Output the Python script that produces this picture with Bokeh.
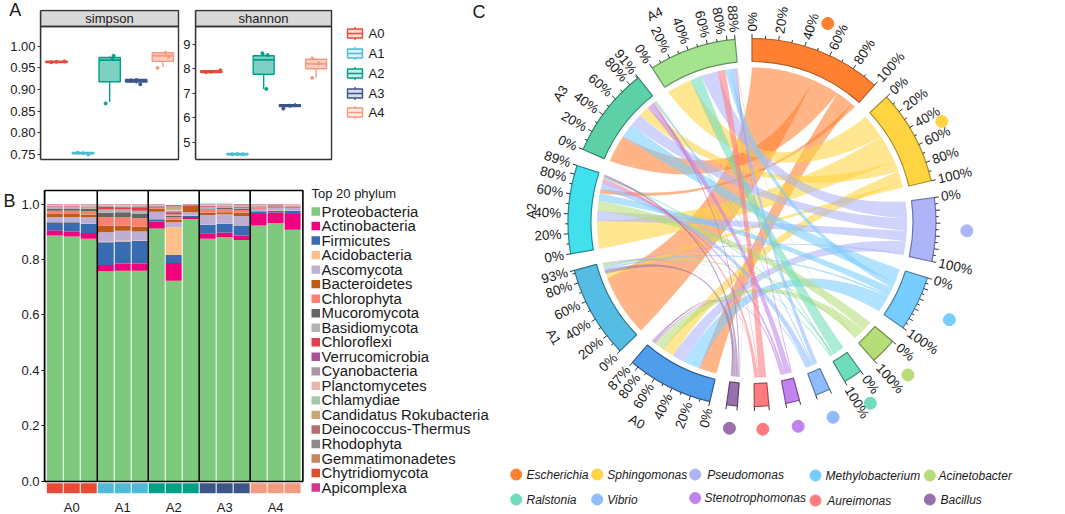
import math
from bokeh.embed import file_html
from bokeh.resources import INLINE
from bokeh.plotting import figure
from bokeh.layouts import row, column
from bokeh.models import Range1d, FixedTicker, NumeralTickFormatter, ColumnDataSource
from bokeh.core.properties import value

FONT = "Liberation Sans"
# ---------- panel A data ----------
groups = ["A0", "A1", "A2", "A3", "A4"]
group_colors = ["#E64B35", "#4DBBD5", "#00A087", "#3C5488", "#F39B7F"]
simpson_min = [0.962, 0.751, 0.871, 0.914, 0.952]
simpson_q1 = [0.9625, 0.7515, 0.918, 0.917, 0.965]
simpson_med = [0.964, 0.753, 0.968, 0.920, 0.978]
simpson_q3 = [0.9655, 0.7545, 0.974, 0.923, 0.985]
simpson_max = [0.966, 0.755, 0.976, 0.924, 0.986]
simpson_pt_x = [1, 1.3, 0.8, 2, 2.2, 1.8, 2.85, 3.15, 3.1, 4, 4.15, 3.8, 4.8, 5.1, 5.2]
simpson_pt_y = [0.964, 0.965, 0.963, 0.753, 0.750, 0.754, 0.868, 0.978, 0.972, 0.922, 0.912, 0.921, 0.950, 0.985, 0.976]
shannon_min = [7.85, 4.50, 7.18, 6.42, 7.63]
shannon_q1 = [7.85, 4.50, 7.78, 6.46, 8.00]
shannon_med = [7.88, 4.53, 8.36, 6.50, 8.20]
shannon_q3 = [7.92, 4.55, 8.53, 6.54, 8.39]
shannon_max = [7.94, 4.56, 8.63, 6.55, 8.42]
shannon_pt_x = [1, 1.35, 0.8, 2, 2.2, 1.8, 3.1, 2.95, 3.15, 4, 3.75, 4.2, 4.85, 5.1, 4.85]
shannon_pt_y = [7.88, 7.94, 7.86, 4.53, 4.52, 4.52, 7.18, 8.63, 8.56, 6.50, 6.38, 6.52, 8.42, 8.22, 7.63]
simpson_ticks = [0.75, 0.80, 0.85, 0.90, 0.95, 1.00]
shannon_ticks = [5, 6, 7, 8, 9]

# ---------- panel B data ----------
phyla = ["Proteobacteria", "Actinobacteria", "Firmicutes", "Acidobacteria", "Ascomycota", "Bacteroidetes",
         "Chlorophyta", "Mucoromycota", "Basidiomycota", "Chloroflexi", "Verrucomicrobia", "Cyanobacteria",
         "Planctomycetes", "Chlamydiae", "Candidatus Rokubacteria", "Deinococcus-Thermus", "Rhodophyta",
         "Gemmatimonadetes", "Chytridiomycota", "Apicomplexa"]
phyla_colors = ["#7FC97F", "#F0027F", "#386CB0", "#FDC086", "#BEAED4", "#BF5B17", "#FB8072", "#666666",
                "#B3B3B3", "#E0404F", "#A65297", "#A998A4", "#E8B5B0", "#A6C8B0", "#C8A876", "#B76E70",
                "#8E8A8E", "#C6875E", "#D9512C", "#D3388F"]
proteo = [.886, .883, .875, .757, .759, .759, .912, .723, .946, .875, .881, .870, .922, .931, .907]
actino = [.019, .018, .020, .023, .026, .026, .025, .064, .007, .019, .016, .016, .042, .038, .057]
firmi = [.029, .033, .033, .082, .080, .081, .008, .029, .005, .030, .032, .036, .010, .007, .011]
acido = [.001, .001, .001, .002, .002, .002, .001, .100, .001, .001, .001, .001, .001, .001, .001]
asco = [.018, .018, .023, .034, .036, .033, .026, .018, .011, .035, .033, .034, .009, .009, .010]
bacte = [.013, .011, .009, .024, .019, .018, .012, .009, .024, .008, .007, .011, .003, .002, .002]
chlorophyta = [.010, .012, .014, .031, .031, .030, .002, .009, .001, .012, .011, .010, .002, .001, .002]
mucoro = [.008, .008, .008, .015, .017, .015, .002, .006, .001, .004, .005, .004, .001, .001, .001]
basidio = [.005, .005, .005, .012, .010, .012, .002, .004, .001, .005, .005, .004, .002, .001, .001]
chloroflexi = [.002, .002, .002, .009, .008, .012, .002, .006, .001, .003, .002, .002, .001, .001, .001]
verruco = [.001, .001, .001, .002, .002, .003, .001, .005, .000, .001, .001, .002, .001, .001, .001]
cyano = [.001, .001, .001, .002, .002, .002, .002, .002, .001, .001, .001, .002, .001, .004, .001]
plancto = [.002, .002, .002, .001, .002, .001, .001, .002, .000, .002, .001, .001, .001, .001, .001]
chlamy = [.001, .001, .001, .001, .001, .001, .001, .002, .000, .001, .001, .001, .001, .000, .000]
candid = [.001, .001, .001, .001, .001, .001, .001, .010, .000, .001, .001, .001, .001, .000, .000]
deino = [.001, .001, .001, .001, .001, .001, .001, .002, .000, .001, .001, .003, .001, .001, .001]
rhodo = [.001, .000, .001, .001, .001, .001, .000, .001, .000, .001, .001, .001, .000, .000, .000]
gemma = [.000, .000, .000, .000, .000, .000, .000, .001, .000, .000, .000, .000, .000, .000, .000]
chytri = [.000, .000, .000, .000, .000, .000, .000, .001, .000, .000, .000, .000, .000, .000, .000]
apico = [.001, .001, .001, .001, .001, .001, .001, .002, .001, .001, .001, .001, .001, .001, .001]
phyla_values = [proteo, actino, firmi, acido, asco, bacte, chlorophyta, mucoro, basidio, chloroflexi,
                verruco, cyano, plancto, chlamy, candid, deino, rhodo, gemma, chytri, apico]
stack_ticks = [0.0, 0.2, 0.4, 0.6, 0.8, 1.0]

# ---------- panel C data: flows (percent of sample) ----------
genera = ["Escherichia", "Sphingomonas", "Pseudomonas", "Methylobacterium", "Acinetobacter",
          "Ralstonia", "Vibrio", "Stenotrophomonas", "Aureimonas", "Bacillus"]
genus_colors = ["#FF8030", "#FFD440", "#AEB4F8", "#78CDFF", "#B5DD78", "#6FDCBC", "#8FBBFF", "#C183EE", "#FF7B7F", "#9970AC"]
genus_edges = ["#B35A22", "#A8902C", "#6C72B0", "#4A80A8", "#748F4A", "#3F8A74", "#5A78B0", "#7A4F9A", "#A84C50", "#5E4470"]
sample_colors = ["#4F9DEB", "#55BCE4", "#40E0EC", "#5DD0A8", "#A5E48E"]
sample_edges = ["#2F5F90", "#2F7590", "#208A95", "#2F8A68", "#62925A"]
flow_A0 = [21, 14, 15, 20, 11, 0.5, 1, 2, 1, 1.5]
flow_A1 = [74, 5.5, 2, 2.5, 2, 1, 0.5, 0.5, 0.5, 4.5]
flow_A2 = [5, 33, 12, 9, 12, 2, 7, 3, 3, 3]
flow_A3 = [33, 13, 15, 17, 0.5, 1.5, 1.5, 7, 1, 1.5]
flow_A4 = [0.2, 30, 20, 7, 1, 14, 5, 1.5, 9, 0.3]
flows = [flow_A0, flow_A1, flow_A2, flow_A3, flow_A4]
sample_totals = [87, 93, 89, 91, 88]
order_in_genus = [[1, 3, 0, 2, 4], [4, 2, 3, 0, 1], [4, 3, 2, 0, 1], [3, 4, 2, 1, 0], [2, 0, 1, 4, 3],
                  [4, 2, 3, 1, 0], [4, 3, 2, 1, 0], [4, 3, 2, 1, 0], [4, 3, 2, 1, 0], [4, 3, 2, 1, 0]]
order_in_sample = [[0, 3, 2, 1, 4, 7, 9, 8, 5, 6], [0, 1, 9, 3, 2, 4, 5, 6, 7, 8], [1, 2, 4, 3, 0, 6, 7, 8, 5, 9],
                   [0, 3, 2, 1, 7, 9, 8, 5, 6, 4], [1, 5, 2, 8, 3, 6, 7, 4, 0, 9]]

TXT = "#1a1a1a"
FRAME = "#333333"


def vmap(px, px0, v0, px1, v1):
    return v0 + (px - px0) * (v1 - v0) / (px1 - px0)


def box_panel(title, lo, q1, med, q3, hi, px_, py_, ticks, fmt, width, left, fx0, fx1, t0px, t0v, t1px, t1v):
    height = 175
    fig_top, fig_bottom = 9, 161
    xs = 26.6
    xr = Range1d(0.4, 0.4 + (width - left) / xs)
    yr = Range1d(vmap(fig_bottom, t0px, t0v, t1px, t1v), vmap(fig_top, t0px, t0v, t1px, t1v))
    p = figure(width=width, height=height, x_range=xr, y_range=yr, output_backend="svg", toolbar_location=None,
               x_axis_location=None, min_border_left=left, min_border_right=0, min_border_top=9, min_border_bottom=14)
    p.grid.visible = False
    p.outline_line_color = None
    ax = p.yaxis[0]
    ax.ticker = FixedTicker(ticks=ticks)
    ax.formatter = NumeralTickFormatter(format=fmt)
    ax.minor_tick_line_color = None
    ax.major_tick_in = 0
    ax.major_tick_out = 3
    ax.major_tick_line_color = FRAME
    ax.axis_line_color = FRAME
    ax.axis_line_width = 1.4
    ax.major_label_standoff = 2
    ax.major_label_text_font = FONT
    ax.major_label_text_font_size = "13px"
    ax.major_label_text_color = TXT
    pb = vmap(159, t0px, t0v, t1px, t1v)
    pt = vmap(26, t0px, t0v, t1px, t1v)
    st = vmap(10, t0px, t0v, t1px, t1v)
    ax.bounds = (pb, st)
    right = 0.4 + (fx1 - fx0) / xs
    p.quad(left=[0.4], right=[right], bottom=[pt], top=[st], fill_color="#D9D9D9", line_color=FRAME, line_width=1.4)
    p.quad(left=[0.4], right=[right], bottom=[pb], top=[pt], fill_color=None, line_color=FRAME, line_width=1.4)
    p.text(x=[0.4 + (fx1 - fx0) / xs / 2], y=[(pt + st) / 2], text=[title], text_align="center", text_baseline="middle",
           text_font=value(FONT), text_font_size="13px", text_color=TXT)
    x = [1, 2, 3, 4, 5]
    p.segment(x0=x, x1=x, y0=lo, y1=q1, line_color=group_colors, line_width=1.4)
    p.segment(x0=x, x1=x, y0=q3, y1=hi, line_color=group_colors, line_width=1.4)
    p.vbar(x=x, width=0.8, bottom=q1, top=q3, fill_color=group_colors, fill_alpha=0.5, line_color=group_colors, line_width=1.4)
    p.segment(x0=[i - 0.4 for i in x], x1=[i + 0.4 for i in x], y0=med, y1=med, line_color=group_colors, line_width=1.8)
    ptc = [group_colors[int(i // 3)] for i in range(15)]
    p.scatter(x=px_, y=py_, size=3, color=ptc)
    return p


def panel_letter(axis, letter, standoff):
    axis.axis_label = letter
    axis.axis_label_orientation = "horizontal"
    axis.axis_label_align = "end"
    axis.axis_label_standoff = standoff
    axis.axis_label_text_font = FONT
    axis.axis_label_text_font_size = "18px"
    axis.axis_label_text_font_style = "normal"
    axis.axis_label_text_color = TXT


simpson = box_panel("simpson", simpson_min, simpson_q1, simpson_med, simpson_q3, simpson_max, simpson_pt_x, simpson_pt_y,
                    simpson_ticks, "0.00", 180, 40, 40, 178, 45.7, 1.00, 154, 0.75)
shannon = box_panel("shannon", shannon_min, shannon_q1, shannon_med, shannon_q3, shannon_max, shannon_pt_x, shannon_pt_y,
                    shannon_ticks, "0", 153, 13, 193, 331, 43.7, 9, 142, 5)
panel_letter(simpson.yaxis[0], "A", -14)

# ---------- legend A + C letter (image-pixel coordinates) ----------
leg_a = figure(width=157, height=175, x_range=Range1d(333, 490), y_range=Range1d(175, 0), output_backend="svg",
               toolbar_location=None, x_axis_location=None, y_axis_location=None,
               min_border_left=0, min_border_right=0, min_border_top=0, min_border_bottom=0)
leg_a.grid.visible = False
leg_a.outline_line_color = None
key_y = [33, 53, 73, 93, 112]
leg_a.segment(x0=[354.5] * 5, x1=[354.5] * 5, y0=[y - 6.5 for y in key_y], y1=[y + 6.5 for y in key_y], line_color=group_colors, line_width=1.3)
leg_a.quad(left=[347] * 5, right=[362] * 5, top=[y - 4.5 for y in key_y], bottom=[y + 4.5 for y in key_y], fill_color="white",
           line_color=group_colors, line_width=1.4)
leg_a.quad(left=[347] * 5, right=[362] * 5, top=[y - 4.5 for y in key_y], bottom=[y + 4.5 for y in key_y], fill_color=group_colors,
           fill_alpha=0.2, line_color=None)
leg_a.segment(x0=[347] * 5, x1=[362] * 5, y0=key_y, y1=key_y, line_color=group_colors, line_width=1.3)
leg_a.text(x=[368] * 5, y=key_y, text=groups, text_baseline="middle", text_font=value(FONT), text_font_size="13px", text_color=TXT)
leg_a.text(x=[472], y=[1], text=["C"], text_baseline="top", text_font=value(FONT), text_font_size="18px", text_color=TXT)

# ---------- panel B ----------
bx_scale = 17.05
b_w, b_h = 310, 339
b_left = 43
y_of = lambda px: (480.5 - px) / 277
bxr = Range1d(0.394, 0.394 + (b_w - b_left) / bx_scale)
byr = Range1d(y_of(514), y_of(188))
bar = figure(width=b_w, height=b_h, x_range=bxr, y_range=byr, output_backend="svg", toolbar_location=None,
             x_axis_location=None, min_border_left=b_left, min_border_right=0, min_border_top=13, min_border_bottom=0)
bar.grid.visible = False
bar.outline_line_color = None
sample_x = list(range(1, 16))
cum = [0.0] * 15
for vals, col in zip(phyla_values, phyla_colors):
    tops = [c + v for c, v in zip(cum, vals)]
    bar.vbar(x=sample_x, width=0.94, bottom=cum, top=tops, fill_color=col, line_color=None)
    cum = tops
ay = bar.yaxis[0]
ay.ticker = FixedTicker(ticks=stack_ticks)
ay.formatter = NumeralTickFormatter(format="0.0")
ay.minor_tick_line_color = None
ay.major_tick_in = 0
ay.major_tick_out = 3
ay.axis_line_color = "black"
ay.axis_line_width = 1.6
ay.major_tick_line_color = "black"
ay.major_label_standoff = 2
ay.major_label_text_font = FONT
ay.major_label_text_font_size = "13px"
ay.major_label_text_color = TXT
ay.bounds = (y_of(481), y_of(190))
panel_letter(ay, "\nB", 3)
bar.quad(left=[0.394], right=[15.606], bottom=[y_of(481)], top=[y_of(190)], fill_color=None, line_color="black", line_width=1.6)
divx = [3.5, 6.5, 9.5, 12.5]
bar.segment(x0=divx, x1=divx, y0=[y_of(481)] * 4, y1=[y_of(190)] * 4, line_color="black", line_width=1.6)
bar.vbar(x=sample_x, width=0.94, bottom=y_of(492.7), top=y_of(482.7),
         fill_color=[c for c in group_colors for _ in range(3)], line_color=None)
bar.text(x=[2, 5, 8, 11, 14], y=[y_of(507)] * 5, text=groups, text_align="center", text_baseline="middle",
         text_font=value(FONT), text_font_size="13px", text_color=TXT)

leg_b = figure(width=180, height=339, x_range=Range1d(310, 490), y_range=Range1d(514, 188), output_backend="svg",
               toolbar_location=None, x_axis_location=None, y_axis_location=None,
               min_border_left=0, min_border_right=0, min_border_top=13, min_border_bottom=0)
leg_b.grid.visible = False
leg_b.outline_line_color = None
ly = [211 + i * 14.53 for i in range(20)]
leg_b.quad(left=[311] * 20, right=[319.5] * 20, top=[y - 4.2 for y in ly], bottom=[y + 4.2 for y in ly], fill_color=phyla_colors, line_color=None)
leg_b.text(x=[321] * 20, y=ly, text=phyla, text_baseline="middle", text_font=value(FONT), text_font_size="14.9px", text_color=TXT)
leg_b.text(x=[311], y=[193], text=["Top 20 phylum"], text_baseline="middle", text_font=value(FONT), text_font_size="13px", text_color=TXT)

# ---------- panel C ----------
CX, CY = 751.5, 222.0
R_OUT, R_IN, R_LINK = 184.0, 161.0, 155.0
GAP = 5.3
chord = figure(width=575, height=514, x_range=Range1d(490 - CX, 1065 - CX), y_range=Range1d(CY - 514, CY),
               output_backend="svg", toolbar_location=None, x_axis_location=None, y_axis_location=None,
               min_border_left=0, min_border_right=0, min_border_top=0, min_border_bottom=0)
chord.grid.visible = False
chord.outline_line_color = None

genus_sum = [sum(f[j] for f in flows) for j in range(10)]
sample_sum = [sum(f) for f in flows]
grand = sum(genus_sum) + sum(sample_sum)
unit = (360 - 15 * GAP) / grand
sectors = []
t = 0.0
for s in genus_sum + sample_sum:
    sectors.append((t, t + s * unit))
    t += s * unit + GAP


def pol(theta, r):
    a = math.radians(theta)
    return r * math.sin(a), r * math.cos(a)


# link slots
genus_slot = {}
for j in range(10):
    a = sectors[j][0]
    for i in order_in_genus[j]:
        w = flows[i][j] * unit
        genus_slot[(i, j)] = (a, a + w)
        a += w
sample_slot = {}
for i in range(5):
    a = sectors[10 + i][0]
    for j in order_in_sample[i]:
        w = flows[i][j] * unit
        sample_slot[(i, j)] = (a, a + w)
        a += w


def arc(a, b, r, n=14):
    return [pol(a + (b - a) * k / n, r) for k in range(n + 1)]


def bez(t0, t1, n=36):
    x0, y0 = pol(t0, R_LINK)
    x1, y1 = pol(t1, R_LINK)
    k = 0.08
    cx, cy = (x0 + x1) * k, (y0 + y1) * k
    out = []
    for m in range(1, n):
        u = m / n
        out.append(((1 - u) ** 2 * x0 + 2 * u * (1 - u) * cx + u * u * x1,
                    (1 - u) ** 2 * y0 + 2 * u * (1 - u) * cy + u * u * y1))
    return out


lxs, lys, lcol = [], [], []
for j in range(10):
    for i in order_in_genus[j]:
        a1, a2 = genus_slot[(i, j)]
        b1, b2 = sample_slot[(i, j)]
        pts = arc(a1, a2, R_LINK) + bez(a2, b1) + arc(b1, b2, R_LINK) + bez(b2, a1)
        lxs.append([q[0] for q in pts])
        lys.append([q[1] for q in pts])
        lcol.append(genus_colors[j])
chord.patches(xs=lxs, ys=lys, fill_color=lcol, fill_alpha=0.58, line_color=None)

sec_fill = genus_colors + sample_colors
sec_edge = genus_edges + sample_edges
chord.annular_wedge(x=[0] * 15, y=[0] * 15, inner_radius=R_IN, outer_radius=R_OUT,
                    start_angle=[90 - s[0] for s in sectors], end_angle=[90 - s[1] for s in sectors],
                    start_angle_units="deg", end_angle_units="deg", direction="clock",
                    fill_color=sec_fill, line_color=sec_edge, line_width=1.2)

# ticks and tick labels
tx0, tx1, ty0, ty1 = [], [], [], []
lab_x, lab_y, lab_t, lab_a, lab_al = [], [], [], [], []


def tick(theta, major):
    x0, y0 = pol(theta, R_OUT)
    x1, y1 = pol(theta, R_OUT + (4.5 if major else 2.8))
    tx0.append(x0); tx1.append(x1); ty0.append(y0); ty1.append(y1)


def label(theta, s):
    x, y = pol(theta, R_OUT + 7)
    lab_x.append(x); lab_y.append(y); lab_t.append(s)
    if theta < 180:
        lab_a.append(90 - theta); lab_al.append("left")
    else:
        lab_a.append(270 - theta); lab_al.append("right")


for idx, (a, b) in enumerate(sectors):
    if idx < 10:
        step = (b - a) / 100
        if idx < 4:
            for pc in range(0, 101, 10):
                tick(a + pc * step, pc % 20 == 0)
        else:
            tick(a, True); tick(b, True)
        if idx < 2:
            for pc in range(0, 101, 20):
                label(a + pc * step, f"{pc}%")
        elif idx < 6:
            label(a, "0%"); label(b, "100%")
    else:
        total = sample_sum[idx - 10]
        step = (b - a) / total
        shown = sample_totals[idx - 10]
        for pc in range(0, 91, 10):
            if pc <= total:
                tick(a + pc * step, pc % 20 == 0)
        tick(b, True)
        for pc in range(0, 81, 20):
            nudge = 1.5 if pc == 80 and total - 80 < 9.5 else 0
            label(a + pc * step - nudge, f"{pc}%")
        label(b, f"{shown}%")
chord.segment(x0=tx0, x1=tx1, y0=ty0, y1=ty1, line_color="#333333", line_width=1)
src = ColumnDataSource(dict(x=lab_x, y=lab_y, t=lab_t, a=lab_a, al=lab_al))
chord.text(x="x", y="y", text="t", angle="a", angle_units="deg", text_align="al", text_baseline="middle", source=src,
           text_font=value(FONT), text_font_size="13.5px", text_color=TXT)

# sector names
name_theta = [210, 240, 273, 304, 335]
name_r = [230, 229, 221, 231, 230]
for g, m, r in zip(groups, name_theta, name_r):
    x, y = pol(m, r)
    rot = 180 - m if m < 270 else 360 - m
    chord.text(x=[x], y=[y], text=[g], angle=[rot], angle_units="deg", text_align="center", text_baseline="middle",
               text_font=value(FONT), text_font_size="13px", text_color=TXT)

# genus dots
dot_r = [213, 215, 215, 220, 218, 216, 211, 209, 207, 207]
dot_pts = [pol((sectors[j][0] + sectors[j][1]) / 2, dot_r[j]) for j in range(10)]
chord.scatter(x=[q[0] for q in dot_pts], y=[q[1] for q in dot_pts], size=12, color=genus_colors)

# bottom legend (image coordinates converted to chord coordinates)
dot_lx = [515.7, 596.7, 694.7, 815, 929.3, 515.7, 596.7, 694.7, 815, 929.3]
dot_ly = [474, 474, 474, 475, 475, 499, 499, 497.5, 500, 499]
txt_lx = [526, 606.7, 706.7, 825, 938, 526, 606.7, 704, 826.7, 940]
chord.scatter(x=[v - CX for v in dot_lx], y=[CY - v for v in dot_ly], size=11, color=genus_colors)
chord.text(x=[v - CX for v in txt_lx], y=[CY - v for v in dot_ly], text=genera, text_baseline="middle",
           text_font=value(FONT), text_font_style="italic", text_font_size="12px", text_color=TXT)

top_row = row(row(simpson, shannon, spacing=0), leg_a, spacing=0)
left_col = column(top_row, row(bar, leg_b, spacing=0), spacing=0)
page = row(left_col, chord, spacing=0)
open("out.html", "w").write(file_html(page, INLINE))
